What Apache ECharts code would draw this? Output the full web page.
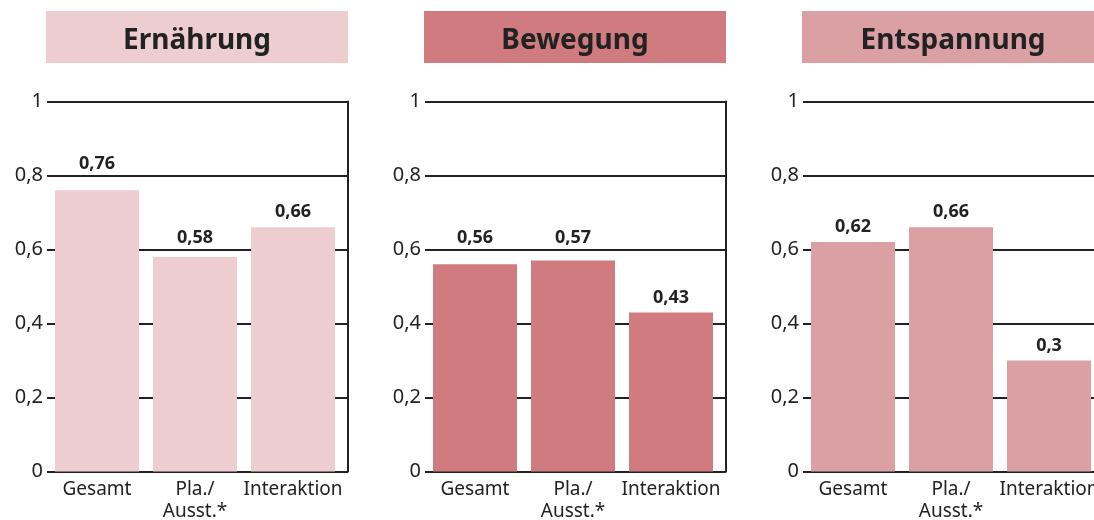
<!DOCTYPE html>
<html>
<head>
<meta charset="utf-8">
<script src="https://cdn.jsdelivr.net/npm/echarts@6/dist/echarts.min.js"></script>
<style>
  html, body { margin: 0; padding: 0; background: #fff; }
  #chart { width: 1094px; height: 520px; }
</style>
</head>
<body>
<div id="chart"></div>
<script>
// Panel headings and category names
const panelTitles = ['Ernährung', 'Bewegung', 'Entspannung'];
const categories = ['Gesamt', 'Pla./\nAusst.*', 'Interaktion'];

// Values per panel
const ernaehrung = [0.76, 0.58, 0.66];
const bewegung = [0.56, 0.57, 0.43];
const entspannung = [0.62, 0.66, 0.3];

// Value axis range
const yMin = 0;
const yMax = 1;
const yStep = 0.2;

const panelValues = [ernaehrung, bewegung, entspannung];
const panelColors = ['#EECDD0', '#CF7B80', '#DBA0A3'];

const ink = '#222222';
const font = '"Noto Sans", "DejaVu Sans", sans-serif';
const comma = v => String(+(+v).toFixed(2)).replace('.', ',');

const panelStep = 378;
const plotTop = 101.5;
const plotHeight = 370;
const pxPerUnit = plotHeight / (yMax - yMin);

// Value labels normally sit just above the bar; when that would put the
// text on a grid line, lift the label so it rests above that line instead.
const labelGap = 6;
const labelHeight = 18;
function labelDistance(v) {
  for (let g = yMin + yStep; g <= yMax + 1e-9; g += yStep) {
    const gap = (g - v) * pxPerUnit;
    if (gap >= labelGap - 2 && gap <= labelGap + labelHeight + 2) {
      return gap + 3;
    }
  }
  return labelGap;
}

const grid = [], xAxis = [], yAxis = [], series = [], graphic = [];

panelValues.forEach((vals, i) => {
  const off = i * panelStep;
  const frameIdx = i * 2;
  const barIdx = i * 2 + 1;

  // frame grid: grid lines, left labels and right border
  grid.push({ left: 47 + off, top: plotTop, width: 301, height: plotHeight,
              containLabel: false, outerBoundsMode: 'none' });
  // bar grid
  grid.push({ left: 48 + off, top: plotTop, width: 294, height: plotHeight,
              containLabel: false, outerBoundsMode: 'none' });

  xAxis.push({
    gridIndex: frameIdx, type: 'value', min: 0, max: 1, show: false
  });
  xAxis.push({
    gridIndex: barIdx, type: 'category', data: categories,
    axisLine: { show: false }, axisTick: { show: false },
    axisLabel: {
      interval: 0, margin: 7, fontSize: 19, lineHeight: 22,
      color: ink, fontFamily: font
    }
  });

  yAxis.push({
    gridIndex: frameIdx, type: 'value', min: yMin, max: yMax, interval: yStep,
    position: 'left',
    axisLine: { show: false }, axisTick: { show: false },
    splitLine: { show: true, lineStyle: { color: ink, width: 2 } },
    axisLabel: {
      margin: 4, fontSize: 20, color: ink, fontFamily: font,
      formatter: v => comma(v)
    }
  });
  yAxis.push({
    gridIndex: frameIdx, type: 'value', min: yMin, max: yMax, interval: yStep,
    position: 'right',
    axisLine: { show: true, lineStyle: { color: ink, width: 2 } },
    axisTick: { show: false }, axisLabel: { show: false },
    splitLine: { show: false }
  });
  const yBar = yAxis.length;
  yAxis.push({
    gridIndex: barIdx, type: 'value', min: yMin, max: yMax, show: false,
    splitLine: { show: false }
  });

  series.push({
    type: 'bar',
    xAxisIndex: barIdx,
    yAxisIndex: yBar,
    data: vals.map(v => ({ value: v, label: { distance: labelDistance(v) } })),
    barWidth: 84,
    itemStyle: { color: panelColors[i] },
    label: {
      show: true, position: 'top',
      fontSize: 18, fontWeight: 'bold', color: ink, fontFamily: font,
      formatter: p => comma(p.value)
    }
  });

  // heading box
  graphic.push({
    type: 'rect',
    shape: { x: 46 + off, y: 11, width: 302, height: 52 },
    style: { fill: panelColors[i] }
  });
  graphic.push({
    type: 'text',
    x: 197 + off, y: 41,
    style: {
      text: panelTitles[i],
      fill: ink,
      font: 'bold 28px ' + font,
      textAlign: 'center',
      textVerticalAlign: 'middle'
    }
  });
});

const chart = echarts.init(document.getElementById('chart'), null, { renderer: 'canvas' });
chart.setOption({
  animation: false,
  backgroundColor: '#ffffff',
  grid, xAxis, yAxis, series, graphic
});
</script>
</body>
</html>
